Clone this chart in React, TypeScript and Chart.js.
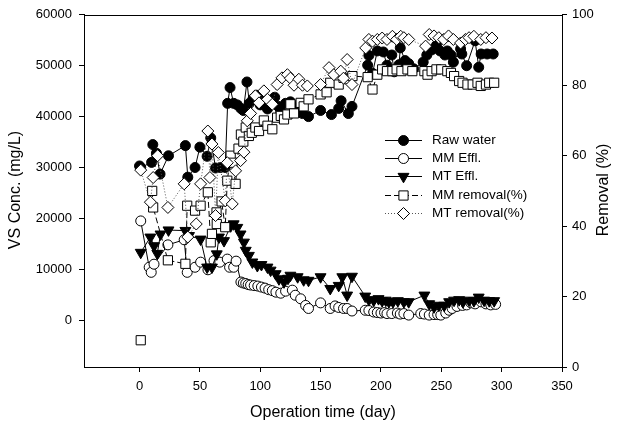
import React, { useEffect, useRef } from "react";
import { Chart, registerables } from "chart.js";

Chart.register(...registerables);

const FONT = "'Liberation Sans', Arial, sans-serif";

const xTickValues = [0, 50, 100, 150, 200, 250, 300, 350];
const leftTickValues = [0, 10000, 20000, 30000, 40000, 50000, 60000];
const rightTickValues = [0, 20, 40, 60, 80, 100];

const xTitle = "Operation time (day)";
const leftTitle = "VS Conc. (mg/L)";
const rightTitle = "Removal (%)";

const seriesNames = ["Raw water", "MM Effl.", "MT Effl.", "MM removal(%)", "MT removal(%)"];

const rawDays = [0, 1, 10, 11, 14, 17, 24, 38, 40, 46, 50, 56, 59, 63, 67, 71, 73, 75, 78, 81, 84, 86, 89, 91, 94, 97, 100, 103, 106, 109, 112, 115, 117, 121, 125, 128, 132, 135, 140, 150, 159, 165, 167, 173, 176, 189, 190, 193, 197, 202, 205, 209, 211, 215, 216, 220, 223, 227, 235, 238, 242, 246, 249, 253, 255, 258, 260, 266, 267, 271, 278, 281, 283, 288, 293];
const rawVals = [30300, 30000, 31000, 34500, 32800, 28700, 32300, 34300, 28100, 30000, 34000, 32200, 35800, 29900, 30000, 30000, 42600, 45700, 42600, 42300, 41600, 41200, 46800, 42600, 43500, 44200, 42300, 43000, 41500, 42800, 43800, 42000, 41000, 42600, 42900, 41800, 41600, 40600, 40000, 41200, 40400, 41600, 43100, 40600, 42000, 50100, 52000, 48500, 52900, 52700, 50100, 52100, 48800, 50200, 53500, 51000, 50400, 49400, 50700, 52100, 53100, 54000, 52900, 52100, 52900, 52100, 50700, 53300, 52300, 50000, 54900, 49700, 52300, 52300, 52300];

const mmEffDays = [1, 8, 9.7, 12, 23.5, 37, 39.5, 46, 50.6, 56.7, 61.7, 66.5, 72.7, 74.6, 78, 80, 84, 86, 88, 90, 92, 95, 98, 101, 104, 107, 110, 113, 117, 121, 126.6, 129, 133.5, 137.6, 140, 150, 158, 162, 165, 169, 172, 176, 187, 190, 194, 197, 200, 203, 205, 209, 213.6, 216, 219, 223, 233, 236, 240, 244, 247, 249.6, 253.7, 256.5, 259, 263, 267.6, 271, 274.5, 278, 283, 287, 291, 295];
const mmEffVals = [19500, 10400, 9400, 11000, 14800, 15800, 9400, 10400, 11400, 9900, 11700, 11400, 12000, 10400, 10400, 11600, 7500, 7300, 7200, 7000, 6900, 6800, 6700, 6500, 6300, 6000, 5800, 5500, 5300, 5700, 5900, 4900, 4200, 2900, 2300, 3400, 2300, 2800, 2500, 2300, 2300, 1800, 1950, 1900, 1600, 1500, 1400, 1500, 1300, 1300, 1400, 1200, 1300, 1000, 1300, 1200, 1000, 1100, 1100, 1000, 1400, 1950, 2300, 2700, 2900, 3000, 3400, 3200, 3600, 3200, 3000, 3100];

const mtEffDays = [1, 9, 12, 14.7, 17.4, 24, 38, 41, 50.6, 56, 60, 64, 65.8, 70, 75.5, 78, 81, 83.7, 86.5, 88, 90.6, 93.5, 97.6, 101, 106, 108.6, 112.8, 115.5, 119.7, 123, 125, 131, 136, 140, 150, 158, 165, 168, 172, 176, 187, 190, 194, 198, 201, 204, 206.6, 210, 214, 219, 223, 236, 240, 244, 248, 252.4, 256.5, 260.6, 264.8, 268, 273, 277, 281, 285.5, 289.7, 293.8];
const mtEffVals = [13300, 16300, 14600, 13100, 16900, 17700, 17600, 16600, 15900, 10400, 10400, 13000, 16300, 15600, 18500, 18900, 18200, 16900, 15300, 13700, 12700, 11400, 10700, 10900, 10400, 9800, 9100, 8100, 7500, 8200, 8800, 8500, 7900, 7800, 8500, 6200, 6800, 8500, 4900, 8600, 4700, 4000, 3900, 4200, 3800, 3900, 3600, 3600, 3800, 3600, 3600, 4900, 3200, 2600, 2900, 2900, 3600, 3900, 4000, 3600, 3900, 3800, 4500, 3900, 3800, 3800];

// null = gap in the dashed line (first point is not connected in the reference)
const mmRemDays = [1, 5, 10.5, 11.3, 23.5, 38, 39.5, 46, 50.6, 56.6, 59, 60, 63.8, 64, 68, 71, 72.7, 75.5, 77, 79.6, 82, 84, 86, 88, 90.6, 93, 96, 99, 103, 106, 110, 114, 117, 119.7, 122.5, 125, 128, 133.5, 136, 140, 150, 155, 158, 165, 169, 173.5, 176.4, 189, 193, 197, 201, 205, 209.5, 213, 217, 222, 226, 236, 238.6, 242, 246, 250, 255, 258, 260.6, 264.8, 267.6, 271.7, 276, 280, 282.7, 287, 289.7, 293.8];
const mmRemVals = [7.6, null, 50, 45.3, 30.3, 29.3, 45.8, 44.4, 45.8, 49.6, 35.4, 37.8, 43.9, 40.6, 47, 39.7, 52.9, 60, 58, 52, 62, 66, 64, 68, 65.6, 66.5, 68, 67, 70, 68.5, 67.5, 70.8, 71.3, 70.3, 71.7, 74.6, 72, 75, 74, 76, 77.4, 78, 80.7, 80.2, 82.1, 81.7, 82.6, 82.3, 78.8, 83, 84.5, 84, 84, 84.5, 84, 84.5, 84, 84, 83, 84, 84.5, 84.5, 84, 83.5, 82.6, 81.2, 80.7, 80.2, 80.2, 80.7, 79.8, 80.2, 80.7, 80.7];

const mtRemDays = [1, 9, 11.3, 15, 23.5, 37, 40, 47, 50.6, 56.6, 58.3, 60, 63, 65.3, 71, 72.7, 76.8, 79.6, 83.7, 86.5, 89.3, 92, 96, 99, 103, 106, 110, 114, 118, 122.5, 125, 128, 132, 135, 139, 150, 157, 161, 166.7, 169, 172, 176, 187.4, 190, 193, 197, 201, 205, 209.5, 213, 216.4, 219, 223, 237, 240, 244, 248, 252, 256, 260, 266, 270, 273, 277, 282.7, 287, 292];
const mtRemVals = [55.9, 46.8, 53.8, 60, 45.3, 52, 36.9, 40.6, 52, 67, 53.8, 63.3, 43, 60.9, 47.2, 58, 46.3, 55.7, 58.6, 61, 69.9, 72, 77, 75, 78.4, 76, 74.6, 80.2, 82.1, 83, 82, 80, 81.7, 80, 79.8, 80.2, 85, 83, 84, 82, 87.3, 80.2, 90.6, 93, 92.5, 93, 93.4, 93, 93.9, 93, 93.9, 93.5, 93, 91.1, 94.4, 94, 93.5, 93, 94, 93, 92, 93, 93.5, 93.9, 93, 93.5, 93.4];

const pts = (d: number[], v: (number | null)[]) => d.map((x, i) => ({ x, y: v[i] }));

type StyleDef = {
  pointStyle: any;
  rotation?: number;
  radius: number;
  fill: string;
  dash: number[];
  lineColor: string;
};

const styles: StyleDef[] = [
  { pointStyle: "circle", radius: 5, fill: "#000", dash: [], lineColor: "#000" },
  { pointStyle: "circle", radius: 5, fill: "#fff", dash: [], lineColor: "#000" },
  { pointStyle: "triangle", rotation: 180, radius: 6.3, fill: "#000", dash: [], lineColor: "#000" },
  { pointStyle: "rect", radius: 6.5, fill: "#fff", dash: [6, 3], lineColor: "#000" },
  { pointStyle: "rectRot", radius: 6, fill: "#fff", dash: [1, 2], lineColor: "#555" },
];

function drawMarker(ctx: CanvasRenderingContext2D, st: StyleDef, x: number, y: number) {
  const r = st.radius;
  ctx.beginPath();
  if (st.pointStyle === "circle") {
    ctx.arc(x, y, r, 0, Math.PI * 2);
  } else if (st.pointStyle === "triangle") {
    let a = ((st.rotation || 0) * Math.PI) / 180;
    ctx.moveTo(x + Math.sin(a) * r, y - Math.cos(a) * r);
    a += (2 * Math.PI) / 3;
    ctx.lineTo(x + Math.sin(a) * r, y - Math.cos(a) * r);
    a += (2 * Math.PI) / 3;
    ctx.lineTo(x + Math.sin(a) * r, y - Math.cos(a) * r);
    ctx.closePath();
  } else if (st.pointStyle === "rect") {
    const s = Math.SQRT1_2 * r;
    ctx.rect(x - s, y - s, 2 * s, 2 * s);
  } else {
    ctx.moveTo(x, y - r);
    ctx.lineTo(x + r, y);
    ctx.lineTo(x, y + r);
    ctx.lineTo(x - r, y);
    ctx.closePath();
  }
  ctx.fill();
  ctx.stroke();
}

const framePlugin = {
  id: "frame",
  afterDatasetsDraw(chart: any) {
    const { ctx, chartArea } = chart;
    ctx.save();
    ctx.strokeStyle = "#000";
    ctx.lineWidth = 1;
    ctx.beginPath();
    ctx.moveTo(chartArea.left, Math.round(chartArea.top) + 0.5);
    ctx.lineTo(chartArea.right + 0.5, Math.round(chartArea.top) + 0.5);
    ctx.stroke();
    ctx.restore();
  },
};

const legendPlugin = {
  id: "customLegend",
  afterDraw(chart: any) {
    const { ctx } = chart;
    ctx.save();
    const x0 = 385;
    const x1 = 422;
    const mx = 403.5;
    const tx = 432;
    seriesNames.forEach((name, i) => {
      const y = Math.round(140 + i * 18.2) + 0.5;
      const st = styles[i];
      ctx.strokeStyle = st.lineColor;
      ctx.lineWidth = 1;
      ctx.setLineDash(st.dash);
      ctx.beginPath();
      ctx.moveTo(x0, y);
      ctx.lineTo(x1, y);
      ctx.stroke();
      ctx.setLineDash([]);
      ctx.strokeStyle = "#000";
      ctx.fillStyle = st.fill;
      drawMarker(ctx, st, mx, y);
      ctx.fillStyle = "#000";
      ctx.font = `13.5px ${FONT}`;
      ctx.textAlign = "left";
      ctx.textBaseline = "middle";
      ctx.fillText(name, tx, y);
    });
    ctx.restore();
  },
};

const titlesPlugin = {
  id: "axisTitles",
  afterDraw(chart: any) {
    const { ctx } = chart;
    ctx.save();
    ctx.fillStyle = "#000";
    ctx.font = `16px ${FONT}`;
    ctx.textAlign = "center";
    ctx.textBaseline = "middle";
    ctx.fillText(xTitle, 323, 413);
    ctx.save();
    ctx.translate(16, 190);
    ctx.rotate(-Math.PI / 2);
    ctx.fillText(leftTitle, 0, 0);
    ctx.restore();
    ctx.save();
    ctx.translate(604, 190);
    ctx.rotate(-Math.PI / 2);
    ctx.fillText(rightTitle, 0, 0);
    ctx.restore();
    ctx.restore();
  },
};

export default function App() {
  const ref = useRef<HTMLCanvasElement>(null);
  useEffect(() => {
    const series = [
      { d: rawDays, v: rawVals, axis: "y" },
      { d: mmEffDays, v: mmEffVals, axis: "y" },
      { d: mtEffDays, v: mtEffVals, axis: "y" },
      { d: mmRemDays, v: mmRemVals, axis: "y1" },
      { d: mtRemDays, v: mtRemVals, axis: "y1" },
    ];
    const datasets = series.map((s, i) => {
      const st = styles[i];
      return {
        label: seriesNames[i],
        data: pts(s.d, s.v as (number | null)[]),
        yAxisID: s.axis,
        showLine: true,
        spanGaps: false,
        borderColor: st.lineColor,
        borderWidth: 1,
        borderDash: st.dash,
        pointStyle: st.pointStyle,
        pointRotation: st.rotation || 0,
        pointRadius: st.radius,
        pointBackgroundColor: st.fill,
        pointBorderColor: "#000",
        pointBorderWidth: 1,
        tension: 0,
        order: 5 - i,
        clip: false as any,
      };
    });
    const tickFont = { family: FONT, size: 13 };
    const chart = new Chart(ref.current as HTMLCanvasElement, {
      type: "scatter",
      data: { datasets: datasets as any },
      options: {
        responsive: false,
        animation: false,
        devicePixelRatio: 1,
        layout: { padding: { top: 13, left: 0, right: 0, bottom: 0 } },
        plugins: { legend: { display: false }, tooltip: { enabled: false } },
        scales: {
          x: {
            type: "linear",
            min: -46,
            max: 350,
            afterBuildTicks: (s: any) => {
              s.ticks = xTickValues.map((v) => ({ value: v }));
            },
            afterFit: (s: any) => {
              s.height = 69;
            },
            grid: { drawOnChartArea: false, drawTicks: true, tickLength: 5, color: "#000" },
            border: { display: true, color: "#000" },
            ticks: { color: "#000", font: tickFont, padding: 7, maxRotation: 0, autoSkip: false },
          },
          y: {
            type: "linear",
            position: "left",
            min: -9200,
            max: 60000,
            afterBuildTicks: (s: any) => {
              s.ticks = leftTickValues.map((v) => ({ value: v }));
            },
            afterFit: (s: any) => {
              s.width = 84;
            },
            grid: { drawOnChartArea: false, drawTicks: true, tickLength: 5, color: "#000" },
            border: { display: true, color: "#000" },
            ticks: { color: "#000", font: tickFont, padding: 7, autoSkip: false, callback: (v: any) => String(v) },
          },
          y1: {
            type: "linear",
            position: "right",
            min: 0,
            max: 100,
            afterBuildTicks: (s: any) => {
              s.ticks = rightTickValues.map((v) => ({ value: v }));
            },
            afterFit: (s: any) => {
              s.width = 61;
            },
            grid: { drawOnChartArea: false, drawTicks: true, tickLength: 5, color: "#000" },
            border: { display: true, color: "#000" },
            ticks: { color: "#000", font: tickFont, padding: 5, autoSkip: false, callback: (v: any) => String(v) },
          },
        },
      } as any,
      plugins: [framePlugin, legendPlugin, titlesPlugin],
    });
    return () => chart.destroy();
  }, []);
  return (
    <div style={{ position: "fixed", left: 0, top: 0, width: 623, height: 436, background: "#fff" }}>
      <canvas ref={ref} width={623} height={436} style={{ display: "block" }} />
    </div>
  );
}
